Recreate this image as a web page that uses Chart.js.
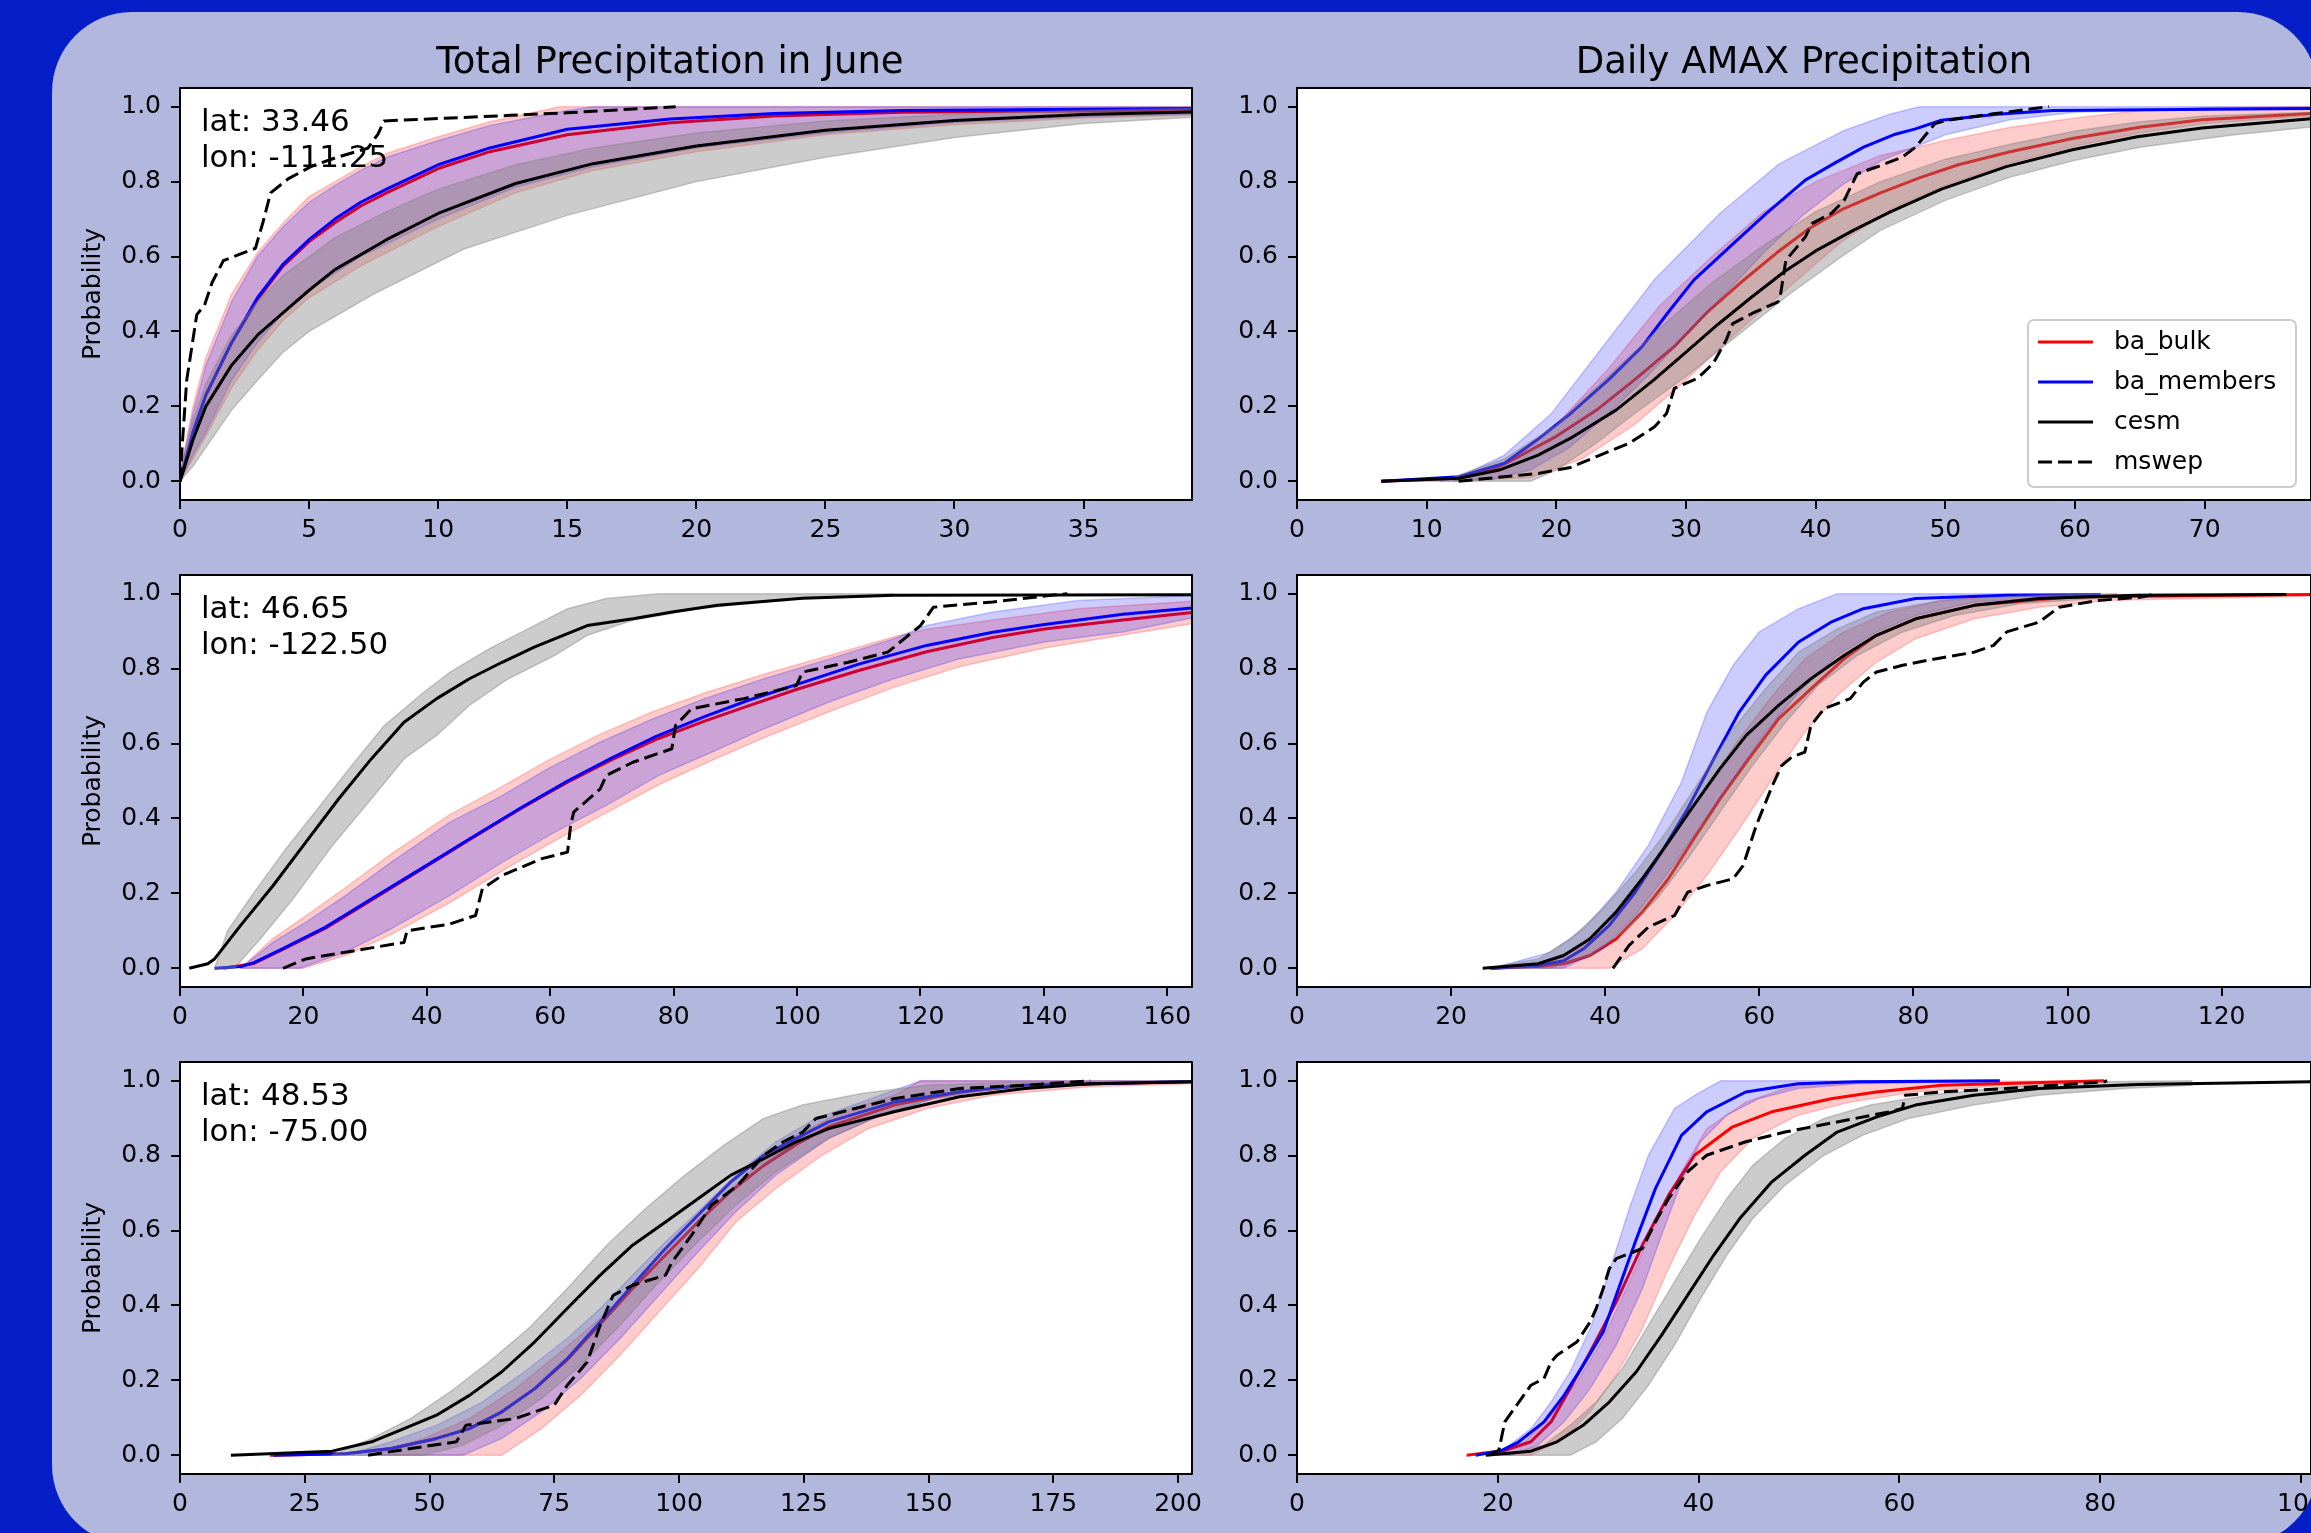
<!DOCTYPE html>
<html>
<head>
<meta charset="utf-8">
<script src="https://cdn.jsdelivr.net/npm/chart.js@4.4.0/dist/chart.umd.min.js"></script>
<style>
  html, body { margin: 0; padding: 0; width: 2311px; height: 1533px; overflow: hidden; background: #061ec8; }
  #slide { position: absolute; left: 52px; top: 12px; width: 2266px; height: 1533px; background: #b1b7dd; border-radius: 80px; }
  canvas { position: absolute; }
</style>
</head>
<body>
<div id="slide"></div>
<script>
'use strict';

// text
const colTitles = ['Total Precipitation in June', 'Daily AMAX Precipitation'];
const latLabels = ['lat: 33.46', 'lat: 46.65', 'lat: 48.53'];
const lonLabels = ['lon: -111.25', 'lon: -122.50', 'lon: -75.00'];
const seriesNames = ['ba_bulk', 'ba_members', 'cesm', 'mswep'];
const yLabel = 'Probability';

// axes
const yTicks = [0, 0.2, 0.4, 0.6, 0.8, 1.0];
const xTicks = [
  [0, 5, 10, 15, 20, 25, 30, 35],
  [0, 10, 20, 30, 40, 50, 60, 70],
  [0, 20, 40, 60, 80, 100, 120, 140, 160],
  [0, 20, 40, 60, 80, 100, 120],
  [0, 25, 50, 75, 100, 125, 150, 175, 200],
  [0, 20, 40, 60, 80, 100]
];
const xMax = [39.2, 78.2, 164.0, 131.6, 202.8, 101.0];

// --- row 1, total precip
const tp1Bulk = [[0,0],[0.5,0.13],[1,0.23],[2,0.37],[3,0.485],[4,0.575],[5,0.64],[6,0.69],[7,0.735],[8,0.77],[10,0.835],[12,0.88],[15,0.925],[19,0.957],[23,0.975],[28,0.985],[33,0.988],[39.2,0.99]];
const tp1BulkLo = [[0,0],[0.5,0.06],[1,0.12],[2,0.25],[3,0.35],[4,0.43],[5,0.49],[7,0.575],[10,0.68],[13,0.77],[16,0.83],[20,0.88],[25,0.925],[30,0.952],[35,0.97],[39.2,0.978]];
const tp1BulkHi = [[0,0.02],[0.5,0.2],[1,0.33],[2,0.5],[3,0.61],[4,0.69],[5,0.76],[6,0.8],[7,0.84],[8,0.875],[10,0.92],[12,0.96],[14.7,1.0],[39.2,1.0]];
const tp1Mem = [[0,0],[0.5,0.13],[1,0.23],[2,0.37],[3,0.49],[4,0.58],[5,0.645],[6,0.7],[7,0.745],[8,0.78],[10,0.845],[12,0.89],[15,0.94],[19,0.967],[23,0.982],[28,0.99],[39.2,0.995]];
const tp1MemLo = [[0,0],[0.5,0.07],[1,0.13],[2,0.27],[3,0.37],[4,0.45],[5,0.51],[7,0.6],[10,0.7],[13,0.785],[16,0.84],[20,0.89],[25,0.93],[30,0.958],[35,0.973],[39.2,0.98]];
const tp1MemHi = [[0,0.02],[0.5,0.18],[1,0.31],[2,0.48],[3,0.6],[4,0.68],[5,0.745],[6,0.79],[7,0.83],[8,0.865],[10,0.91],[12,0.95],[15,0.99],[16,1.0],[39.2,1.0]];
const tp1Cesm = [[0,0],[0.5,0.11],[1,0.2],[2,0.31],[3,0.39],[4,0.45],[5,0.51],[6,0.565],[8,0.645],[10,0.715],[13,0.795],[16,0.848],[20,0.895],[25,0.937],[30,0.963],[35,0.979],[39.2,0.986]];
const tp1CesmLo = [[0,0],[0.5,0.04],[1,0.09],[1.5,0.14],[2,0.19],[3,0.27],[4,0.345],[5,0.4],[7.5,0.5],[11,0.62],[15,0.71],[20,0.8],[25,0.865],[30,0.918],[35,0.955],[39.2,0.972]];
const tp1CesmHi = [[0,0.02],[0.5,0.16],[1,0.26],[2,0.39],[3,0.48],[4,0.55],[5,0.6],[6,0.65],[8,0.72],[10,0.78],[13,0.845],[16,0.89],[20,0.93],[25,0.962],[30,0.98],[35,0.99],[39.2,0.995]];
const tp1Obs = [[0,0],[0.1,0.11],[0.26,0.27],[0.65,0.445],[0.95,0.47],[1.24,0.53],[1.68,0.589],[2.92,0.622],[3.22,0.693],[3.51,0.77],[4.2,0.808],[5.1,0.841],[6.08,0.865],[7.27,0.889],[7.67,0.927],[7.9,0.962],[12.8,0.977],[15,0.984],[19.2,1.0]];

// --- row 1, daily amax
const am1Bulk = [[6.5,0],[12.5,0.008],[15,0.03],[17.1,0.066],[20,0.12],[23.1,0.19],[26,0.27],[29.1,0.36],[31.6,0.45],[34.2,0.53],[37,0.61],[39.5,0.675],[42,0.725],[45,0.77],[48,0.81],[51,0.845],[55,0.88],[59.8,0.915],[65,0.945],[69.8,0.965],[78.2,0.982]];
const am1BulkLo = [[12,0],[18,0.01],[22,0.06],[26,0.15],[30,0.27],[34,0.4],[38,0.52],[42,0.64],[46,0.73],[50,0.79],[55,0.85],[60,0.895],[65,0.93],[70,0.955],[78.2,0.975]];
const am1BulkHi = [[12,0],[16,0.05],[20,0.15],[24,0.3],[28,0.47],[32,0.6],[36,0.72],[40,0.8],[45,0.87],[50,0.91],[55,0.945],[60,0.97],[65,0.99],[70,0.998],[78.2,1.0]];
const am1Mem = [[6.5,0],[12.5,0.012],[16,0.048],[18.5,0.11],[21.1,0.181],[24,0.27],[26.6,0.359],[28.6,0.45],[30.6,0.537],[33.5,0.63],[36.2,0.715],[39.2,0.804],[41.5,0.85],[43.7,0.892],[46,0.925],[47.7,0.941],[49.7,0.964],[54,0.98],[58.3,0.99],[78.2,0.995]];
const am1MemLo = [[11,0],[15,0.005],[18,0.03],[21,0.09],[24,0.18],[27,0.28],[30,0.39],[33,0.5],[36,0.61],[39,0.71],[42,0.79],[45,0.855],[50,0.925],[55,0.965],[60,0.985],[70,0.995],[78.2,0.997]];
const am1MemHi = [[11,0],[13,0.02],[16,0.07],[19.6,0.18],[23.6,0.36],[27.6,0.54],[32.6,0.715],[37.2,0.848],[42.2,0.937],[45.7,0.98],[48,1.0],[78.2,1.0]];
const am1Cesm = [[6.5,0],[12.5,0.008],[15.6,0.03],[18.6,0.07],[21.1,0.115],[24.6,0.19],[27.5,0.27],[30,0.345],[32.5,0.42],[35,0.49],[37.6,0.56],[40,0.615],[42.9,0.67],[45.8,0.72],[49.7,0.78],[54.7,0.84],[59.8,0.885],[64.8,0.92],[69.8,0.943],[78.2,0.968]];
const am1CesmLo = [[7,0],[18,0],[20,0.03],[23,0.1],[26,0.18],[30,0.28],[34,0.39],[38,0.5],[42,0.6],[45,0.67],[50,0.75],[55,0.812],[60,0.857],[65,0.892],[72,0.924],[78.2,0.946]];
const am1CesmHi = [[7,0],[12,0.01],[16,0.06],[20,0.15],[24,0.28],[28,0.41],[32,0.53],[36,0.63],[40,0.72],[45,0.8],[50,0.86],[55,0.9],[60,0.935],[65,0.96],[70,0.975],[78.2,0.985]];
const am1Obs = [[12.46,0],[18.6,0.021],[21.1,0.037],[23.1,0.066],[25.6,0.101],[27.6,0.146],[28.5,0.181],[29.1,0.248],[30.9,0.275],[32.1,0.315],[33.1,0.377],[33.6,0.421],[35.1,0.448],[37.1,0.479],[37.3,0.501],[37.7,0.59],[39.2,0.652],[39.7,0.688],[41.2,0.715],[42.2,0.75],[43.2,0.821],[44.7,0.839],[46.7,0.866],[47.7,0.892],[49.2,0.955],[50.2,0.964],[53.7,0.981],[58,1.0]];

// --- row 2, total precip
const tp2Bulk = [[7,0],[12,0.013],[17,0.053],[23.6,0.107],[31,0.182],[39.5,0.268],[46.9,0.343],[55.4,0.428],[62.8,0.497],[70,0.557],[77,0.61],[85,0.66],[92,0.7],[100,0.745],[110,0.795],[121,0.845],[131.7,0.883],[140.1,0.906],[152.8,0.93],[164,0.95]];
const tp2BulkLo = [[9.8,0],[20,0],[27,0.035],[34.2,0.09],[43.7,0.175],[52.2,0.26],[60.7,0.34],[69.1,0.415],[77.6,0.49],[86.2,0.555],[94.6,0.615],[105.2,0.685],[115.7,0.75],[126.3,0.805],[140.1,0.855],[152.8,0.89],[164,0.92]];
const tp2BulkHi = [[9.8,0],[15.1,0.08],[20.4,0.14],[26.8,0.215],[34.2,0.305],[43.7,0.41],[52.2,0.485],[59.6,0.555],[68.1,0.625],[76.6,0.685],[85,0.735],[94.6,0.785],[105.2,0.835],[115.7,0.885],[121,0.905],[131.7,0.93],[145.4,0.96],[164,0.98]];
const tp2Mem = [[5.6,0],[10,0.005],[12,0.015],[17,0.055],[23.6,0.11],[31,0.185],[39.5,0.27],[46.9,0.345],[55.4,0.43],[62.8,0.5],[70,0.562],[77,0.618],[85,0.672],[92,0.715],[100,0.758],[110,0.812],[121,0.862],[131.7,0.897],[140.1,0.918],[152.8,0.945],[164,0.962]];
const tp2MemLo = [[9.8,0],[19.4,0],[26.8,0.043],[34.2,0.105],[43.7,0.194],[52.2,0.283],[60.7,0.363],[69.1,0.435],[77.6,0.515],[86.2,0.577],[94.6,0.639],[105.2,0.711],[115.7,0.773],[126.3,0.826],[140.1,0.871],[152.8,0.898],[164,0.935]];
const tp2MemHi = [[9.8,0],[15.1,0.07],[20.4,0.123],[26.8,0.194],[34.2,0.283],[43.7,0.39],[52.2,0.461],[59.6,0.533],[68.1,0.604],[76.6,0.666],[85,0.72],[94.6,0.773],[105.2,0.826],[115.7,0.88],[121,0.915],[131.7,0.951],[145.4,0.982],[164,0.995]];
const tp2Cesm = [[1.5,0],[4.5,0.012],[5.6,0.025],[7.5,0.065],[9.8,0.114],[15.1,0.221],[20.4,0.337],[25.7,0.452],[31,0.559],[36.3,0.657],[41.6,0.72],[46.9,0.773],[52.2,0.817],[57.5,0.858],[66,0.915],[73.4,0.933],[80,0.952],[87.1,0.969],[100.9,0.988],[115.7,0.996],[164,0.997]];
const tp2CesmLo = [[5.6,0],[8.8,0],[13,0.078],[18.3,0.185],[24.7,0.328],[31,0.452],[36.3,0.559],[41.6,0.622],[46.9,0.702],[53.2,0.773],[60.7,0.835],[66,0.889],[73.4,0.929],[84,0.96],[94.6,0.978],[102,0.991],[115.7,0.996]];
const tp2CesmHi = [[5.6,0],[7.7,0.1],[11.9,0.2],[17.2,0.32],[22.5,0.43],[27.8,0.541],[33.1,0.648],[39.5,0.737],[43.7,0.79],[50.1,0.853],[55.4,0.898],[62.8,0.96],[69.1,0.987],[77.6,1.0],[115.7,1.0]];
const tp2Obs = [[16.7,0],[20.4,0.025],[26.8,0.043],[36.3,0.069],[36.8,0.1],[43.7,0.118],[47.9,0.141],[49,0.212],[52.2,0.248],[58.5,0.292],[62.8,0.31],[63.3,0.381],[63.8,0.417],[68.1,0.479],[69.1,0.515],[73.4,0.55],[79.7,0.586],[80.3,0.648],[82.9,0.693],[91.4,0.72],[99.9,0.755],[100.9,0.791],[108.3,0.817],[114.7,0.844],[120,0.915],[122.1,0.964],[131.7,0.978],[141.2,0.996],[143.8,1.0]];

// --- row 2, daily amax
const am2Bulk = [[25,0],[31.3,0.005],[34.6,0.012],[38,0.034],[41.4,0.078],[44.8,0.15],[48.2,0.239],[51.5,0.346],[54.9,0.452],[58.3,0.55],[62.5,0.666],[66.7,0.746],[71,0.826],[75.2,0.889],[80.3,0.933],[87.9,0.969],[100.5,0.991],[131.6,0.998]];
const am2BulkLo = [[31.3,0],[40.5,0],[44.8,0.052],[49,0.141],[53.2,0.248],[57.4,0.372],[61.7,0.506],[65.9,0.63],[70.1,0.728],[75.2,0.817],[80.3,0.88],[87.9,0.933],[96.3,0.964],[104.9,0.982],[131.6,0.994]];
const am2BulkHi = [[31.3,0],[36.3,0.052],[40.5,0.132],[44.8,0.23],[49,0.354],[53.2,0.488],[57.4,0.613],[61.7,0.728],[65.9,0.826],[71,0.898],[76.9,0.951],[83.6,0.982],[92.1,0.997],[131.6,1.0]];
const am2Mem = [[25.3,0],[31.3,0.007],[34.6,0.02],[37.2,0.052],[40.5,0.114],[43.9,0.203],[47.3,0.31],[50.7,0.426],[54.1,0.559],[57.4,0.684],[60.8,0.782],[65.1,0.871],[69.3,0.924],[73.5,0.96],[80.3,0.987],[92.1,0.996],[104.3,0.997]];
const am2MemLo = [[25.3,0],[34.6,0],[39.7,0.052],[43.9,0.141],[48.2,0.256],[52.4,0.381],[56.6,0.506],[60.8,0.63],[65.1,0.737],[70.1,0.835],[75.2,0.898],[80.3,0.942],[87.9,0.978],[104.3,0.996]];
const am2MemHi = [[25.3,0],[32.9,0.043],[37.2,0.105],[41.4,0.203],[45.6,0.328],[49.9,0.497],[53.2,0.684],[56.6,0.809],[60,0.898],[65.1,0.96],[70.1,1.0],[104.3,1.0]];
const am2Cesm = [[24.1,0],[31.3,0.012],[34.6,0.034],[38,0.078],[41.4,0.15],[44.8,0.239],[48.2,0.337],[51.5,0.435],[54.9,0.533],[58.3,0.622],[62.5,0.702],[66.7,0.773],[71,0.835],[75.2,0.889],[80.3,0.933],[87.9,0.969],[96.3,0.987],[109,0.996],[128.4,0.998]];
const am2CesmLo = [[24.5,0],[32.9,0],[38,0.034],[42.3,0.096],[46.7,0.185],[50.7,0.292],[54.9,0.417],[59.1,0.541],[63.4,0.657],[67.6,0.755],[72.7,0.835],[78.6,0.898],[85.3,0.942],[93.8,0.973],[106.4,0.991]];
const am2CesmHi = [[24.5,0],[31.3,0.025],[35.5,0.078],[39.7,0.159],[43.9,0.256],[48.2,0.372],[52.4,0.506],[56.6,0.639],[60.8,0.746],[65.1,0.844],[70.1,0.906],[75.2,0.951],[83.6,0.982],[96.3,0.996],[106.4,1.0]];
const am2Obs = [[41,0],[43.1,0.061],[45.6,0.11],[49,0.141],[50.7,0.203],[53.2,0.221],[56.6,0.239],[57.9,0.274],[59.6,0.381],[61.7,0.488],[62.9,0.541],[64.2,0.564],[65.9,0.577],[66.7,0.648],[68.4,0.693],[71.8,0.72],[73.5,0.764],[75.2,0.791],[78.6,0.809],[82.8,0.826],[87.9,0.844],[90.4,0.862],[92.1,0.898],[96.3,0.924],[98.9,0.964],[103.9,0.982],[109.6,0.991],[111.5,1.0]];

// --- row 3, total precip
const tp3Bulk = [[18,0],[33.1,0.004],[42.3,0.018],[51.4,0.045],[58,0.071],[64.5,0.116],[71.1,0.178],[77.6,0.255],[84.2,0.35],[90.7,0.445],[97.3,0.535],[103.8,0.623],[110.4,0.705],[117,0.774],[123.5,0.83],[130,0.877],[143.1,0.935],[156.2,0.97],[169.3,0.988],[202.8,0.997]];
const tp3BulkLo = [[38.3,0],[64.5,0],[72.4,0.071],[80.3,0.16],[88.2,0.267],[96,0.383],[103.8,0.498],[111.4,0.623],[119.4,0.712],[128.7,0.801],[137.9,0.872],[149.7,0.926],[162.8,0.961],[182.4,0.984],[202.8,0.992]];
const tp3BulkHi = [[38.3,0],[48.8,0.045],[58,0.098],[67.2,0.178],[76.3,0.276],[84.2,0.365],[92.1,0.463],[100,0.57],[107.8,0.676],[115.6,0.774],[123.5,0.854],[132.7,0.917],[143.1,0.961],[148.4,1.0],[202.8,1.0]];
const tp3Mem = [[18.7,0],[33.1,0.004],[42.3,0.018],[51.4,0.045],[58,0.071],[64.5,0.116],[71.1,0.178],[77.6,0.258],[84.2,0.356],[90.7,0.454],[97.3,0.552],[103.8,0.641],[110.4,0.73],[117,0.801],[123.5,0.846],[130,0.89],[143.1,0.943],[156.2,0.97],[169.3,0.988],[202.8,0.998]];
const tp3MemLo = [[33.1,0],[56.7,0],[64.5,0.045],[72.4,0.116],[80.3,0.205],[88.2,0.312],[96,0.427],[103.8,0.543],[111.4,0.65],[119.4,0.748],[130,0.846],[140.5,0.908],[151,0.952],[162.8,0.979],[182.4,0.992],[202.8,0.997]];
const tp3MemHi = [[33.1,0],[42.3,0.036],[51.4,0.08],[60.6,0.142],[69.8,0.231],[77.6,0.312],[84.2,0.392],[90.7,0.481],[97.3,0.57],[103.8,0.65],[111.4,0.748],[119.4,0.837],[127.4,0.899],[136.6,0.943],[148.4,1.0],[202.8,1.0]];
const tp3Cesm = [[10.2,0],[30.5,0.011],[38.4,0.036],[44.9,0.071],[51.4,0.107],[58,0.16],[64.5,0.223],[71.1,0.303],[77.6,0.392],[84.2,0.481],[90.7,0.561],[97.3,0.623],[103.8,0.685],[110.4,0.748],[117,0.792],[123.5,0.837],[130,0.872],[143.1,0.917],[156.2,0.957],[169.3,0.979],[182.4,0.992],[202.8,0.997]];
const tp3CesmLo = [[30.5,0],[48.8,0],[56.7,0.027],[64.5,0.08],[72.4,0.151],[80.3,0.24],[88.2,0.347],[96,0.463],[103.8,0.57],[111.4,0.668],[119.4,0.757],[130,0.846],[140.5,0.908],[151,0.952],[164.1,0.979],[182.4,0.992],[202.8,0.997]];
const tp3CesmHi = [[30.5,0],[38.4,0.045],[46.2,0.098],[54.1,0.169],[61.9,0.249],[69.8,0.338],[77.6,0.445],[85.5,0.561],[93.3,0.659],[101.2,0.748],[109,0.828],[116.9,0.899],[124.7,0.935],[136.6,0.966],[149.7,0.988],[169.3,0.997],[202.8,1.0]];
const tp3Obs = [[37.7,0],[46.2,0.018],[55.4,0.036],[57.3,0.08],[67.2,0.098],[75,0.134],[77.6,0.187],[81.6,0.249],[84.2,0.347],[86.8,0.427],[90.7,0.454],[97.3,0.481],[98.6,0.516],[102.5,0.587],[106.5,0.668],[111.8,0.721],[117,0.801],[120.9,0.837],[124.8,0.863],[127.4,0.899],[135.3,0.926],[143.1,0.952],[156.2,0.979],[169.3,0.988],[182.4,1.0]];

// --- row 3, daily amax
const am3Bulk = [[16.9,0],[20.7,0.013],[23.3,0.036],[25.3,0.089],[27.2,0.178],[29.2,0.276],[31.8,0.409],[34.4,0.561],[37,0.694],[39.6,0.801],[43.4,0.877],[47.3,0.917],[53.2,0.952],[57.7,0.97],[64.2,0.988],[80.4,1.0]];
const am3BulkLo = [[18.8,0],[23.3,0],[26.6,0.045],[29.2,0.116],[31.8,0.214],[34.4,0.338],[37,0.498],[39.6,0.641],[42.2,0.757],[45.4,0.846],[49.9,0.908],[55.1,0.943],[61.6,0.97],[70.7,0.988],[80.4,0.997]];
const am3BulkHi = [[18.8,0],[22.7,0.036],[25.3,0.107],[27.9,0.196],[30.5,0.312],[33.1,0.463],[35.7,0.623],[38.3,0.757],[40.8,0.872],[44.7,0.943],[48.6,0.979],[52.5,0.997],[80.4,1.0]];
const am3Mem = [[17.8,0],[20.4,0.013],[22.1,0.036],[24.6,0.089],[26.6,0.16],[28.5,0.24],[30.5,0.329],[31.8,0.427],[33.7,0.57],[35.7,0.712],[38.3,0.854],[40.8,0.917],[44.7,0.97],[49.9,0.992],[55.8,0.997],[70,1.0]];
const am3MemLo = [[18.8,0],[21.4,0],[24,0.027],[26.6,0.089],[29.2,0.178],[31.8,0.294],[34.4,0.445],[36.3,0.587],[38.3,0.73],[40.2,0.837],[42.8,0.908],[46,0.952],[49.9,0.979],[55.8,0.992],[70,0.998]];
const am3MemHi = [[18.8,0],[20.7,0.018],[23.3,0.071],[25.3,0.142],[27.2,0.223],[29.2,0.338],[31.1,0.49],[33.1,0.659],[35,0.801],[37.6,0.926],[39.6,0.961],[42.2,1.0],[70,1.0]];
const am3Cesm = [[18.8,0],[23.3,0.011],[25.9,0.036],[28.5,0.08],[31.1,0.142],[33.8,0.223],[36.3,0.32],[38.9,0.427],[41.5,0.534],[44.1,0.632],[47.3,0.73],[50.6,0.801],[53.8,0.863],[57.7,0.903],[61.6,0.935],[67.4,0.961],[73.9,0.979],[83.7,0.99],[101,0.997]];
const am3CesmLo = [[20.7,0],[27.2,0],[29.8,0.036],[32.4,0.098],[35,0.187],[37.6,0.294],[40.2,0.418],[42.8,0.534],[45.4,0.632],[48.6,0.721],[52.5,0.801],[56.3,0.854],[60.9,0.899],[67.4,0.935],[73.9,0.961],[82.4,0.979],[89.2,0.988]];
const am3CesmHi = [[20.7,0],[24.6,0.027],[27.2,0.08],[29.8,0.142],[32.4,0.231],[35,0.347],[37.6,0.463],[40.2,0.579],[42.8,0.685],[45.4,0.774],[48.6,0.846],[52.5,0.899],[57.1,0.935],[62.9,0.961],[70.7,0.984],[80.4,0.997],[89.2,1.0]];
const am3Obs = [[19.1,0],[20.1,0.013],[20.7,0.089],[22.1,0.142],[23.3,0.187],[24.6,0.205],[25.3,0.249],[25.9,0.267],[27.9,0.303],[29.2,0.356],[29.8,0.392],[30.5,0.445],[31.1,0.498],[31.8,0.525],[34.4,0.552],[35.7,0.623],[37,0.685],[38.9,0.757],[40.8,0.801],[44.7,0.837],[48.6,0.863],[53.8,0.89],[59,0.917],[60.3,0.926],[60.6,0.961],[64.2,0.97],[70.7,0.979],[80.4,0.997],[80.7,1.0]];

// panels go row by row: left = total precip, right = daily amax
const bulkMean = [tp1Bulk, am1Bulk, tp2Bulk, am2Bulk, tp3Bulk, am3Bulk];
const bulkLo = [tp1BulkLo, am1BulkLo, tp2BulkLo, am2BulkLo, tp3BulkLo, am3BulkLo];
const bulkHi = [tp1BulkHi, am1BulkHi, tp2BulkHi, am2BulkHi, tp3BulkHi, am3BulkHi];
const memMean = [tp1Mem, am1Mem, tp2Mem, am2Mem, tp3Mem, am3Mem];
const memLo = [tp1MemLo, am1MemLo, tp2MemLo, am2MemLo, tp3MemLo, am3MemLo];
const memHi = [tp1MemHi, am1MemHi, tp2MemHi, am2MemHi, tp3MemHi, am3MemHi];
const cesmMean = [tp1Cesm, am1Cesm, tp2Cesm, am2Cesm, tp3Cesm, am3Cesm];
const cesmLo = [tp1CesmLo, am1CesmLo, tp2CesmLo, am2CesmLo, tp3CesmLo, am3CesmLo];
const cesmHi = [tp1CesmHi, am1CesmHi, tp2CesmHi, am2CesmHi, tp3CesmHi, am3CesmHi];
const obs = [tp1Obs, am1Obs, tp2Obs, am2Obs, tp3Obs, am3Obs];

// look
const lineColors = ['#ff0000', '#0000ff', '#000000', '#000000'];
const lineDash = [[], [], [], [14, 6]];
const bandColors = ['rgba(255,0,0,0.2)', 'rgba(0,0,255,0.2)', 'rgba(128,128,128,0.4)'];
const FONT = "'DejaVu Sans', sans-serif";

// layout (pixels)
const colLeft = [180, 1297];
const colRight = [1192, 2311];
const rowTop = [88, 575, 1062];
const plotH = 412;
const padL = 130, padT = 80, padR = 40, padB = 60;
const titleShift = [-16, 0];

Chart.defaults.font.family = FONT;
Chart.defaults.color = '#000';

function line(data, color, dash, order) {
  return { data, borderColor: color, borderWidth: 3, borderDash: dash, borderJoinStyle: 'round',
    pointRadius: 0, fill: false, tension: 0, order };
}

function band(data, color, fill, order) {
  return { data, borderColor: color, borderWidth: 1.5, backgroundColor: color,
    pointRadius: 0, fill: fill, tension: 0, order };
}

function drawLegend(ctx, area) {
  const w = 268, h = 167;
  const x0 = area.right - 15 - w;
  const y0 = area.bottom - 13 - h;
  ctx.beginPath();
  ctx.roundRect(x0, y0, w, h, 6);
  ctx.fillStyle = 'rgba(255,255,255,0.8)';
  ctx.fill();
  ctx.strokeStyle = '#cccccc';
  ctx.lineWidth = 2;
  ctx.stroke();
  ctx.font = '25px ' + FONT;
  ctx.textAlign = 'left';
  ctx.textBaseline = 'middle';
  for (let i = 0; i < seriesNames.length; i++) {
    const y = y0 + 22 + i * 40;
    ctx.strokeStyle = lineColors[i];
    ctx.lineWidth = 3;
    ctx.setLineDash(lineDash[i]);
    ctx.beginPath();
    ctx.moveTo(x0 + 10, y);
    ctx.lineTo(x0 + 65, y);
    ctx.stroke();
    ctx.setLineDash([]);
    ctx.fillStyle = '#000';
    ctx.fillText(seriesNames[i], x0 + 86, y);
  }
}

// white plot face, black frame, titles, lat/lon notes, legend
const panelDeco = {
  id: 'panelDeco',
  beforeDraw(chart) {
    const { ctx, chartArea: a } = chart;
    ctx.save();
    ctx.fillStyle = '#ffffff';
    ctx.fillRect(a.left, a.top, a.right - a.left, a.bottom - a.top);
    ctx.restore();
  },
  afterDraw(chart, args, opts) {
    const { ctx, chartArea: a } = chart;
    ctx.save();
    ctx.strokeStyle = '#000';
    ctx.lineWidth = 2;
    ctx.strokeRect(a.left, a.top, a.right - a.left, a.bottom - a.top);
    ctx.fillStyle = '#000';
    ctx.textBaseline = 'alphabetic';
    if (opts.title) {
      ctx.font = '37px ' + FONT;
      ctx.textAlign = 'center';
      ctx.fillText(opts.title, (a.left + a.right) / 2 + opts.shift, a.top - 15);
    }
    if (opts.note) {
      ctx.font = '31px ' + FONT;
      ctx.textAlign = 'left';
      opts.note.forEach((t, i) => ctx.fillText(t, a.left + 21, a.top + 43 + i * 36));
    }
    if (opts.legend) drawLegend(ctx, a);
    ctx.restore();
  }
};

function makePanel(p) {
  const row = Math.floor(p / 2);
  const col = p % 2;
  const w = colRight[col] - colLeft[col] + padL + padR;
  const h = plotH + padT + padB;
  const canvas = document.createElement('canvas');
  canvas.width = w;
  canvas.height = h;
  canvas.style.width = w + 'px';
  canvas.style.height = h + 'px';
  canvas.style.left = (colLeft[col] - padL) + 'px';
  canvas.style.top = (rowTop[row] - padT) + 'px';
  document.body.appendChild(canvas);

  // index = order, so '+1' points each upper edge at its lower edge
  const datasets = [
    line(obs[p], lineColors[3], lineDash[3], 0),
    line(cesmMean[p], lineColors[2], [], 1),
    band(cesmHi[p], bandColors[2], '+1', 2),
    band(cesmLo[p], bandColors[2], false, 3),
    line(memMean[p], lineColors[1], [], 4),
    band(memHi[p], bandColors[1], '+1', 5),
    band(memLo[p], bandColors[1], false, 6),
    line(bulkMean[p], lineColors[0], [], 7),
    band(bulkHi[p], bandColors[0], '+1', 8),
    band(bulkLo[p], bandColors[0], false, 9)
  ];

  const gridOpts = { display: true, drawOnChartArea: false, drawTicks: true, tickLength: 9,
    tickWidth: 2, tickColor: '#000', color: '#000', lineWidth: 2 };

  new Chart(canvas, {
    type: 'line',
    data: { datasets },
    options: {
      responsive: false,
      animation: false,
      devicePixelRatio: 1,
      events: [],
      spanGaps: true,
      layout: { padding: { left: 0, top: padT, right: padR, bottom: 0 } },
      scales: {
        x: {
          type: 'linear',
          min: 0,
          max: xMax[p],
          afterFit: (s) => { s.height = padB; },
          afterBuildTicks: (s) => { s.ticks = xTicks[p].map(v => ({ value: v })); },
          grid: gridOpts,
          border: { display: false },
          ticks: { color: '#000', font: { size: 25 }, padding: 6, maxRotation: 0, autoSkip: false,
            callback: (v) => String(v) }
        },
        y: {
          type: 'linear',
          min: -0.05,
          max: 1.05,
          afterFit: (s) => { s.width = padL; },
          afterBuildTicks: (s) => { s.ticks = yTicks.map(v => ({ value: v })); },
          grid: gridOpts,
          border: { display: false },
          ticks: { color: '#000', font: { size: 25 }, padding: 10, autoSkip: false,
            callback: (v) => v.toFixed(1) },
          title: { display: col === 0, text: yLabel, color: '#000', font: { size: 25 },
            padding: { top: 28, bottom: 0 } }
        }
      },
      plugins: {
        legend: { display: false },
        tooltip: { enabled: false },
        panelDeco: {
          title: row === 0 ? colTitles[col] : '',
          shift: titleShift[col],
          note: col === 0 ? [latLabels[row], lonLabels[row]] : null,
          legend: p === 1
        }
      }
    },
    plugins: [panelDeco]
  });
}

for (let p = 0; p < 6; p++) makePanel(p);
</script>
</body>
</html>
